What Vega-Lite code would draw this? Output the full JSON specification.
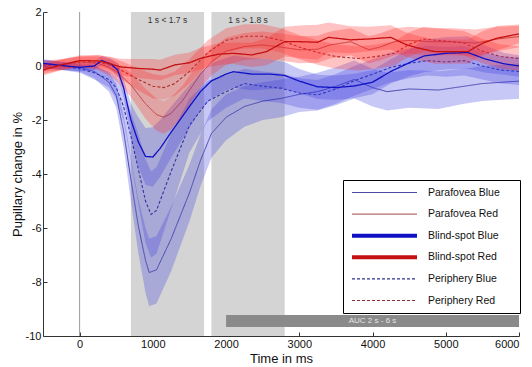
{
  "$schema": "https://vega.github.io/schema/vega-lite/v6.json",
  "width": 476,
  "height": 324,
  "autosize": {"type": "none"},
  "padding": {"left": 43, "top": 12, "right": 13, "bottom": 31},
  "background": "white",
  "config": {
    "view": {"stroke": null},
    "font": "Liberation Sans",
    "axis": {"grid": false, "domainColor": "#333", "tickColor": "#333", "labelColor": "#111", "titleColor": "#111", "labelFontSize": 11, "titleFontSize": 13, "titleFontWeight": "normal", "labelFont": "Liberation Sans", "titleFont": "Liberation Sans", "tickSize": -4}
  },
  "datasets": {
    "curves": [
      {"s":"Blind-spot Blue","x":-500,"m":0.10,"lo":-0.05,"hi":0.25},
      {"s":"Blind-spot Blue","x":-250,"m":0.02,"lo":-0.13,"hi":0.17},
      {"s":"Blind-spot Blue","x":0,"m":-0.05,"lo":-0.20,"hi":0.10},
      {"s":"Blind-spot Blue","x":200,"m":0.00,"lo":-0.15,"hi":0.15},
      {"s":"Blind-spot Blue","x":300,"m":0.20,"lo":0.02,"hi":0.38},
      {"s":"Blind-spot Blue","x":420,"m":0.08,"lo":-0.12,"hi":0.28},
      {"s":"Blind-spot Blue","x":520,"m":-0.15,"lo":-0.40,"hi":0.10},
      {"s":"Blind-spot Blue","x":600,"m":-0.80,"lo":-1.15,"hi":-0.45},
      {"s":"Blind-spot Blue","x":700,"m":-2.00,"lo":-2.60,"hi":-1.40},
      {"s":"Blind-spot Blue","x":800,"m":-2.80,"lo":-3.70,"hi":-1.90},
      {"s":"Blind-spot Blue","x":900,"m":-3.35,"lo":-4.40,"hi":-2.30},
      {"s":"Blind-spot Blue","x":1000,"m":-3.37,"lo":-4.47,"hi":-2.27},
      {"s":"Blind-spot Blue","x":1100,"m":-3.05,"lo":-4.10,"hi":-2.00},
      {"s":"Blind-spot Blue","x":1250,"m":-2.45,"lo":-3.40,"hi":-1.50},
      {"s":"Blind-spot Blue","x":1500,"m":-1.50,"lo":-2.30,"hi":-0.70},
      {"s":"Blind-spot Blue","x":1650,"m":-0.95,"lo":-1.65,"hi":-0.25},
      {"s":"Blind-spot Blue","x":1800,"m":-0.55,"lo":-1.20,"hi":0.10},
      {"s":"Blind-spot Blue","x":2000,"m":-0.30,"lo":-0.90,"hi":0.30},
      {"s":"Blind-spot Blue","x":2100,"m":-0.21,"lo":-0.81,"hi":0.39},
      {"s":"Blind-spot Blue","x":2350,"m":-0.30,"lo":-0.90,"hi":0.30},
      {"s":"Blind-spot Blue","x":2600,"m":-0.30,"lo":-0.85,"hi":0.25},
      {"s":"Blind-spot Blue","x":2800,"m":-0.35,"lo":-0.85,"hi":0.15},
      {"s":"Blind-spot Blue","x":3000,"m":-0.56,"lo":-1.01,"hi":-0.11},
      {"s":"Blind-spot Blue","x":3250,"m":-0.77,"lo":-1.22,"hi":-0.32},
      {"s":"Blind-spot Blue","x":3500,"m":-0.80,"lo":-1.25,"hi":-0.35},
      {"s":"Blind-spot Blue","x":3750,"m":-0.74,"lo":-1.19,"hi":-0.29},
      {"s":"Blind-spot Blue","x":4000,"m":-0.60,"lo":-1.05,"hi":-0.15},
      {"s":"Blind-spot Blue","x":4250,"m":-0.20,"lo":-0.65,"hi":0.25},
      {"s":"Blind-spot Blue","x":4500,"m":0.12,"lo":-0.38,"hi":0.62},
      {"s":"Blind-spot Blue","x":4700,"m":0.37,"lo":-0.23,"hi":0.97},
      {"s":"Blind-spot Blue","x":5000,"m":0.47,"lo":-0.13,"hi":1.07},
      {"s":"Blind-spot Blue","x":5300,"m":0.50,"lo":-0.10,"hi":1.10},
      {"s":"Blind-spot Blue","x":5550,"m":0.25,"lo":-0.25,"hi":0.75},
      {"s":"Blind-spot Blue","x":5800,"m":0.08,"lo":-0.32,"hi":0.48},
      {"s":"Blind-spot Blue","x":6000,"m":0.00,"lo":-0.40,"hi":0.40},

      {"s":"Parafovea Blue","x":-500,"m":0.08,"lo":-0.07,"hi":0.23},
      {"s":"Parafovea Blue","x":-250,"m":0.00,"lo":-0.15,"hi":0.15},
      {"s":"Parafovea Blue","x":0,"m":-0.05,"lo":-0.20,"hi":0.10},
      {"s":"Parafovea Blue","x":200,"m":-0.20,"lo":-0.45,"hi":0.05},
      {"s":"Parafovea Blue","x":400,"m":-0.60,"lo":-0.95,"hi":-0.25},
      {"s":"Parafovea Blue","x":500,"m":-1.10,"lo":-1.55,"hi":-0.65},
      {"s":"Parafovea Blue","x":600,"m":-2.40,"lo":-3.00,"hi":-1.80},
      {"s":"Parafovea Blue","x":700,"m":-4.20,"lo":-5.00,"hi":-3.40},
      {"s":"Parafovea Blue","x":800,"m":-5.90,"lo":-6.90,"hi":-4.90},
      {"s":"Parafovea Blue","x":900,"m":-7.20,"lo":-8.40,"hi":-6.00},
      {"s":"Parafovea Blue","x":950,"m":-7.65,"lo":-8.90,"hi":-6.40},
      {"s":"Parafovea Blue","x":1050,"m":-7.55,"lo":-8.80,"hi":-6.30},
      {"s":"Parafovea Blue","x":1250,"m":-6.40,"lo":-7.60,"hi":-5.20},
      {"s":"Parafovea Blue","x":1500,"m":-4.70,"lo":-5.75,"hi":-3.65},
      {"s":"Parafovea Blue","x":1650,"m":-3.50,"lo":-4.45,"hi":-2.55},
      {"s":"Parafovea Blue","x":1800,"m":-2.50,"lo":-3.40,"hi":-1.60},
      {"s":"Parafovea Blue","x":2000,"m":-1.90,"lo":-2.75,"hi":-1.05},
      {"s":"Parafovea Blue","x":2250,"m":-1.50,"lo":-2.25,"hi":-0.75},
      {"s":"Parafovea Blue","x":2500,"m":-1.30,"lo":-2.00,"hi":-0.60},
      {"s":"Parafovea Blue","x":2750,"m":-1.20,"lo":-1.90,"hi":-0.50},
      {"s":"Parafovea Blue","x":3000,"m":-1.05,"lo":-1.70,"hi":-0.40},
      {"s":"Parafovea Blue","x":3250,"m":-0.95,"lo":-1.65,"hi":-0.25},
      {"s":"Parafovea Blue","x":3500,"m":-0.75,"lo":-1.45,"hi":-0.05},
      {"s":"Parafovea Blue","x":3750,"m":-0.50,"lo":-1.20,"hi":0.20},
      {"s":"Parafovea Blue","x":4000,"m":-0.80,"lo":-1.50,"hi":-0.10},
      {"s":"Parafovea Blue","x":4200,"m":-0.95,"lo":-1.65,"hi":-0.25},
      {"s":"Parafovea Blue","x":4500,"m":-0.85,"lo":-1.55,"hi":-0.15},
      {"s":"Parafovea Blue","x":4900,"m":-0.89,"lo":-1.59,"hi":-0.19},
      {"s":"Parafovea Blue","x":5250,"m":-0.75,"lo":-1.40,"hi":-0.10},
      {"s":"Parafovea Blue","x":5500,"m":-0.65,"lo":-1.30,"hi":0.00},
      {"s":"Parafovea Blue","x":6000,"m":-0.56,"lo":-1.21,"hi":0.09},

      {"s":"Periphery Blue","x":-500,"m":0.05,"lo":-0.10,"hi":0.20},
      {"s":"Periphery Blue","x":-250,"m":0.00,"lo":-0.15,"hi":0.15},
      {"s":"Periphery Blue","x":0,"m":-0.10,"lo":-0.25,"hi":0.05},
      {"s":"Periphery Blue","x":200,"m":-0.25,"lo":-0.50,"hi":0.00},
      {"s":"Periphery Blue","x":400,"m":-0.50,"lo":-0.80,"hi":-0.20},
      {"s":"Periphery Blue","x":500,"m":-0.80,"lo":-1.20,"hi":-0.40},
      {"s":"Periphery Blue","x":600,"m":-1.50,"lo":-2.05,"hi":-0.95},
      {"s":"Periphery Blue","x":700,"m":-2.60,"lo":-3.50,"hi":-1.70},
      {"s":"Periphery Blue","x":800,"m":-3.80,"lo":-5.10,"hi":-2.50},
      {"s":"Periphery Blue","x":900,"m":-5.00,"lo":-6.55,"hi":-3.45},
      {"s":"Periphery Blue","x":975,"m":-5.50,"lo":-7.10,"hi":-3.90},
      {"s":"Periphery Blue","x":1050,"m":-5.35,"lo":-6.95,"hi":-3.75},
      {"s":"Periphery Blue","x":1250,"m":-3.90,"lo":-5.30,"hi":-2.50},
      {"s":"Periphery Blue","x":1500,"m":-2.20,"lo":-3.20,"hi":-1.20},
      {"s":"Periphery Blue","x":1750,"m":-1.30,"lo":-2.05,"hi":-0.55},
      {"s":"Periphery Blue","x":2000,"m":-0.95,"lo":-1.55,"hi":-0.35},
      {"s":"Periphery Blue","x":2250,"m":-0.65,"lo":-1.20,"hi":-0.10},
      {"s":"Periphery Blue","x":2500,"m":-0.75,"lo":-1.30,"hi":-0.20},
      {"s":"Periphery Blue","x":2750,"m":-0.82,"lo":-1.37,"hi":-0.27},
      {"s":"Periphery Blue","x":3000,"m":-1.00,"lo":-1.55,"hi":-0.45},
      {"s":"Periphery Blue","x":3250,"m":-1.07,"lo":-1.62,"hi":-0.52},
      {"s":"Periphery Blue","x":3500,"m":-0.85,"lo":-1.40,"hi":-0.30},
      {"s":"Periphery Blue","x":3750,"m":-0.55,"lo":-1.10,"hi":0.00},
      {"s":"Periphery Blue","x":4000,"m":-0.30,"lo":-0.85,"hi":0.25},
      {"s":"Periphery Blue","x":4250,"m":-0.05,"lo":-0.60,"hi":0.50},
      {"s":"Periphery Blue","x":4500,"m":0.10,"lo":-0.45,"hi":0.65},
      {"s":"Periphery Blue","x":4750,"m":0.20,"lo":-0.35,"hi":0.75},
      {"s":"Periphery Blue","x":5000,"m":0.15,"lo":-0.40,"hi":0.70},
      {"s":"Periphery Blue","x":5250,"m":0.20,"lo":-0.35,"hi":0.75},
      {"s":"Periphery Blue","x":5500,"m":0.00,"lo":-0.50,"hi":0.50},
      {"s":"Periphery Blue","x":5750,"m":-0.15,"lo":-0.65,"hi":0.35},
      {"s":"Periphery Blue","x":6000,"m":-0.20,"lo":-0.70,"hi":0.30},

      {"s":"Blind-spot Red","x":-500,"m":-0.15,"lo":-0.35,"hi":0.05},
      {"s":"Blind-spot Red","x":-250,"m":0.04,"lo":-0.16,"hi":0.24},
      {"s":"Blind-spot Red","x":0,"m":0.20,"lo":0.00,"hi":0.40},
      {"s":"Blind-spot Red","x":250,"m":0.19,"lo":-0.03,"hi":0.41},
      {"s":"Blind-spot Red","x":400,"m":0.10,"lo":-0.15,"hi":0.35},
      {"s":"Blind-spot Red","x":550,"m":-0.03,"lo":-0.33,"hi":0.27},
      {"s":"Blind-spot Red","x":800,"m":-0.09,"lo":-0.44,"hi":0.26},
      {"s":"Blind-spot Red","x":1000,"m":-0.12,"lo":-0.50,"hi":0.26},
      {"s":"Blind-spot Red","x":1100,"m":-0.15,"lo":-0.53,"hi":0.23},
      {"s":"Blind-spot Red","x":1300,"m":0.04,"lo":-0.34,"hi":0.42},
      {"s":"Blind-spot Red","x":1500,"m":0.12,"lo":-0.26,"hi":0.50},
      {"s":"Blind-spot Red","x":1650,"m":0.28,"lo":-0.12,"hi":0.68},
      {"s":"Blind-spot Red","x":1800,"m":0.38,"lo":-0.02,"hi":0.78},
      {"s":"Blind-spot Red","x":1900,"m":0.44,"lo":0.04,"hi":0.84},
      {"s":"Blind-spot Red","x":2100,"m":0.47,"lo":0.07,"hi":0.87},
      {"s":"Blind-spot Red","x":2350,"m":0.41,"lo":-0.04,"hi":0.86},
      {"s":"Blind-spot Red","x":2550,"m":0.53,"lo":0.03,"hi":1.03},
      {"s":"Blind-spot Red","x":2800,"m":0.90,"lo":0.35,"hi":1.45},
      {"s":"Blind-spot Red","x":3000,"m":0.90,"lo":0.30,"hi":1.50},
      {"s":"Blind-spot Red","x":3250,"m":0.88,"lo":0.23,"hi":1.53},
      {"s":"Blind-spot Red","x":3400,"m":1.06,"lo":0.51,"hi":1.61},
      {"s":"Blind-spot Red","x":3700,"m":0.97,"lo":0.47,"hi":1.47},
      {"s":"Blind-spot Red","x":3950,"m":1.00,"lo":0.55,"hi":1.45},
      {"s":"Blind-spot Red","x":4250,"m":1.06,"lo":0.61,"hi":1.51},
      {"s":"Blind-spot Red","x":4450,"m":0.80,"lo":0.35,"hi":1.25},
      {"s":"Blind-spot Red","x":4600,"m":0.68,"lo":0.23,"hi":1.13},
      {"s":"Blind-spot Red","x":4850,"m":0.53,"lo":0.08,"hi":0.98},
      {"s":"Blind-spot Red","x":5300,"m":0.53,"lo":0.08,"hi":0.98},
      {"s":"Blind-spot Red","x":5500,"m":0.84,"lo":0.39,"hi":1.29},
      {"s":"Blind-spot Red","x":5700,"m":1.03,"lo":0.58,"hi":1.48},
      {"s":"Blind-spot Red","x":6000,"m":1.19,"lo":0.84,"hi":1.54},

      {"s":"Parafovea Red","x":-500,"m":-0.10,"lo":-0.30,"hi":0.10},
      {"s":"Parafovea Red","x":-250,"m":0.05,"lo":-0.15,"hi":0.25},
      {"s":"Parafovea Red","x":0,"m":0.15,"lo":-0.05,"hi":0.35},
      {"s":"Parafovea Red","x":250,"m":0.10,"lo":-0.15,"hi":0.35},
      {"s":"Parafovea Red","x":400,"m":-0.05,"lo":-0.35,"hi":0.25},
      {"s":"Parafovea Red","x":500,"m":-0.20,"lo":-0.55,"hi":0.15},
      {"s":"Parafovea Red","x":700,"m":-0.70,"lo":-1.15,"hi":-0.25},
      {"s":"Parafovea Red","x":900,"m":-1.40,"lo":-1.95,"hi":-0.85},
      {"s":"Parafovea Red","x":1050,"m":-1.80,"lo":-2.40,"hi":-1.20},
      {"s":"Parafovea Red","x":1150,"m":-1.90,"lo":-2.50,"hi":-1.30},
      {"s":"Parafovea Red","x":1250,"m":-1.75,"lo":-2.35,"hi":-1.15},
      {"s":"Parafovea Red","x":1400,"m":-1.30,"lo":-1.85,"hi":-0.75},
      {"s":"Parafovea Red","x":1500,"m":-0.90,"lo":-1.45,"hi":-0.35},
      {"s":"Parafovea Red","x":1650,"m":-0.30,"lo":-0.80,"hi":0.20},
      {"s":"Parafovea Red","x":1800,"m":0.15,"lo":-0.35,"hi":0.65},
      {"s":"Parafovea Red","x":2000,"m":0.55,"lo":0.05,"hi":1.05},
      {"s":"Parafovea Red","x":2250,"m":0.72,"lo":0.22,"hi":1.22},
      {"s":"Parafovea Red","x":2500,"m":0.78,"lo":0.28,"hi":1.28},
      {"s":"Parafovea Red","x":2750,"m":0.70,"lo":0.20,"hi":1.20},
      {"s":"Parafovea Red","x":3000,"m":0.60,"lo":0.10,"hi":1.10},
      {"s":"Parafovea Red","x":3250,"m":0.62,"lo":0.12,"hi":1.12},
      {"s":"Parafovea Red","x":3420,"m":0.78,"lo":0.28,"hi":1.28},
      {"s":"Parafovea Red","x":3700,"m":0.90,"lo":0.40,"hi":1.40},
      {"s":"Parafovea Red","x":3950,"m":0.60,"lo":0.10,"hi":1.10},
      {"s":"Parafovea Red","x":4100,"m":0.70,"lo":0.20,"hi":1.20},
      {"s":"Parafovea Red","x":4300,"m":0.90,"lo":0.40,"hi":1.40},
      {"s":"Parafovea Red","x":4500,"m":0.95,"lo":0.45,"hi":1.45},
      {"s":"Parafovea Red","x":4800,"m":0.90,"lo":0.40,"hi":1.40},
      {"s":"Parafovea Red","x":5100,"m":0.90,"lo":0.40,"hi":1.40},
      {"s":"Parafovea Red","x":5400,"m":0.85,"lo":0.35,"hi":1.35},
      {"s":"Parafovea Red","x":5700,"m":1.00,"lo":0.55,"hi":1.45},
      {"s":"Parafovea Red","x":6000,"m":1.09,"lo":0.69,"hi":1.49},

      {"s":"Periphery Red","x":-500,"m":0.00,"lo":-0.20,"hi":0.20},
      {"s":"Periphery Red","x":-250,"m":0.05,"lo":-0.15,"hi":0.25},
      {"s":"Periphery Red","x":0,"m":0.15,"lo":-0.05,"hi":0.35},
      {"s":"Periphery Red","x":250,"m":0.15,"lo":-0.10,"hi":0.40},
      {"s":"Periphery Red","x":450,"m":0.00,"lo":-0.30,"hi":0.30},
      {"s":"Periphery Red","x":600,"m":-0.20,"lo":-0.55,"hi":0.15},
      {"s":"Periphery Red","x":800,"m":-0.50,"lo":-0.90,"hi":-0.10},
      {"s":"Periphery Red","x":1000,"m":-0.75,"lo":-1.20,"hi":-0.30},
      {"s":"Periphery Red","x":1150,"m":-0.80,"lo":-1.25,"hi":-0.35},
      {"s":"Periphery Red","x":1300,"m":-0.65,"lo":-1.10,"hi":-0.20},
      {"s":"Periphery Red","x":1500,"m":-0.20,"lo":-0.65,"hi":0.25},
      {"s":"Periphery Red","x":1750,"m":0.50,"lo":0.05,"hi":0.95},
      {"s":"Periphery Red","x":2000,"m":0.95,"lo":0.50,"hi":1.40},
      {"s":"Periphery Red","x":2250,"m":1.10,"lo":0.65,"hi":1.55},
      {"s":"Periphery Red","x":2500,"m":1.10,"lo":0.65,"hi":1.55},
      {"s":"Periphery Red","x":2750,"m":0.95,"lo":0.50,"hi":1.40},
      {"s":"Periphery Red","x":3000,"m":0.70,"lo":0.25,"hi":1.15},
      {"s":"Periphery Red","x":3250,"m":0.50,"lo":0.05,"hi":0.95},
      {"s":"Periphery Red","x":3500,"m":0.35,"lo":-0.10,"hi":0.80},
      {"s":"Periphery Red","x":3800,"m":0.28,"lo":-0.17,"hi":0.73},
      {"s":"Periphery Red","x":4050,"m":0.35,"lo":-0.10,"hi":0.80},
      {"s":"Periphery Red","x":4300,"m":0.47,"lo":0.02,"hi":0.92},
      {"s":"Periphery Red","x":4500,"m":0.80,"lo":0.35,"hi":1.25},
      {"s":"Periphery Red","x":4700,"m":1.00,"lo":0.55,"hi":1.45},
      {"s":"Periphery Red","x":5000,"m":0.92,"lo":0.47,"hi":1.37},
      {"s":"Periphery Red","x":5250,"m":0.85,"lo":0.40,"hi":1.30},
      {"s":"Periphery Red","x":5500,"m":0.55,"lo":0.10,"hi":1.00},
      {"s":"Periphery Red","x":5750,"m":0.35,"lo":-0.10,"hi":0.80},
      {"s":"Periphery Red","x":6000,"m":0.28,"lo":-0.17,"hi":0.73}
    ],
    "windows": [
      {"x0": 700, "x1": 1700, "xm": 1200, "label": "1 s < 1.7 s"},
      {"x0": 1800, "x1": 2800, "xm": 2300, "label": "1 s > 1.8 s"}
    ],
    "auc": [{"x0": 2000, "x1": 6000, "xm": 4000, "y0": -9.67, "y1": -9.22, "ym": -9.45, "label": "AUC 2 s - 6 s"}],
    "zero": [{"x": 0}]
  },
  "layer": [
    {
      "data": {"name": "windows"},
      "mark": {"type": "rect", "color": "#d4d4d4"},
      "encoding": {
        "x": {"field": "x0", "type": "quantitative", "scale": {"domain": [-500, 6000], "nice": false, "zero": false},
              "axis": {"title": "Time in ms", "orient": "bottom", "values": [0, 1000, 2000, 3000, 4000, 5000, 6000], "labelExpr": "'' + datum.value", "labelPadding": 6, "titlePadding": 3}},
        "x2": {"field": "x1"},
        "y": {"datum": -10, "type": "quantitative", "scale": {"domain": [-10, 2], "nice": false, "zero": false},
              "axis": {"title": "Pupillary change in %", "orient": "left", "values": [-10, -8, -6, -4, -2, 0, 2], "labelExpr": "'' + datum.value", "labelPadding": 6, "titlePadding": 1}},
        "y2": {"datum": 2}
      }
    },
    {
      "data": {"name": "windows"},
      "mark": {"type": "text", "fontSize": 8.5, "color": "#333", "baseline": "middle"},
      "encoding": {
        "x": {"field": "xm", "type": "quantitative"},
        "y": {"datum": 1.7, "type": "quantitative"},
        "text": {"field": "label"}
      }
    },
    {
      "data": {"name": "zero"},
      "mark": {"type": "rule", "color": "#999", "strokeWidth": 1},
      "encoding": {"x": {"field": "x", "type": "quantitative"}}
    },
    {
      "data": {"name": "curves"},
      "transform": [{"filter": "indexof(datum.s, 'Blind-spot') < 0"}],
      "mark": {"type": "line"},
      "encoding": {
        "x": {"field": "x", "type": "quantitative"},
        "y": {"field": "m", "type": "quantitative"},
        "color": {
          "field": "s", "type": "nominal",
          "scale": {
            "domain": ["Parafovea Blue", "Parafovea Red", "Blind-spot Blue", "Blind-spot Red", "Periphery Blue", "Periphery Red"],
            "range": ["#4a4aa0", "#a04a4a", "#1010c4", "#c41010", "#30308a", "#8a3030"]
          },
          "legend": {
            "title": " ", "titleOrient": "right", "titlePadding": 13, "titleFontSize": 6,
            "orient": "none", "legendX": 300, "legendY": 168,
            "symbolType": "stroke", "symbolSize": 4225, "clipHeight": 11,
            "labelOffset": 9, "rowPadding": 10.6, "padding": 7,
            "strokeColor": "#000", "fillColor": "#fff",
            "labelFont": "Liberation Sans", "labelFontSize": 10.5, "labelColor": "#111"
          }
        },
        "strokeDash": {
          "field": "s", "type": "nominal",
          "scale": {
            "domain": ["Parafovea Blue", "Parafovea Red", "Blind-spot Blue", "Blind-spot Red", "Periphery Blue", "Periphery Red"],
            "range": [[1, 0], [1, 0], [1, 0], [1, 0], [3, 2], [3, 2]]
          }
        },
        "strokeWidth": {
          "field": "s", "type": "nominal",
          "scale": {
            "type": "ordinal",
            "domain": ["Parafovea Blue", "Parafovea Red", "Blind-spot Blue", "Blind-spot Red", "Periphery Blue", "Periphery Red"],
            "range": [1, 1, 4, 4, 1.1, 1.1]
          }
        }
      }
    },
    {
      "data": {"name": "curves"},
      "mark": {"type": "area", "fillOpacity": 0.28},
      "encoding": {
        "x": {"field": "x", "type": "quantitative"},
        "y": {"field": "lo", "type": "quantitative"},
        "y2": {"field": "hi"},
        "detail": {"field": "s", "type": "nominal"},
        "fill": {
          "field": "s", "type": "nominal", "legend": null,
          "scale": {
            "domain": ["Parafovea Blue", "Parafovea Red", "Blind-spot Blue", "Blind-spot Red", "Periphery Blue", "Periphery Red"],
            "range": ["#3a3ae0", "#ff2626", "#3a3ae0", "#ff2626", "#3a3ae0", "#ff2626"]
          }
        }
      }
    },
    {
      "data": {"name": "curves"},
      "transform": [{"filter": "indexof(datum.s, 'Blind-spot') == 0"}],
      "mark": {"type": "line", "strokeWidth": 1.3},
      "encoding": {
        "x": {"field": "x", "type": "quantitative"},
        "y": {"field": "m", "type": "quantitative"},
        "color": {"field": "s", "type": "nominal"},
        "strokeDash": {"field": "s", "type": "nominal"}
      }
    },
    {
      "data": {"name": "auc"},
      "mark": {"type": "rect", "color": "#8a8a8a"},
      "encoding": {
        "x": {"field": "x0", "type": "quantitative"},
        "x2": {"field": "x1"},
        "y": {"field": "y0", "type": "quantitative"},
        "y2": {"field": "y1"}
      }
    },
    {
      "data": {"name": "auc"},
      "mark": {"type": "text", "fontSize": 8, "color": "#e6e6e6", "baseline": "middle"},
      "encoding": {
        "x": {"field": "xm", "type": "quantitative"},
        "y": {"field": "ym", "type": "quantitative"},
        "text": {"field": "label"}
      }
    }
  ]
}
